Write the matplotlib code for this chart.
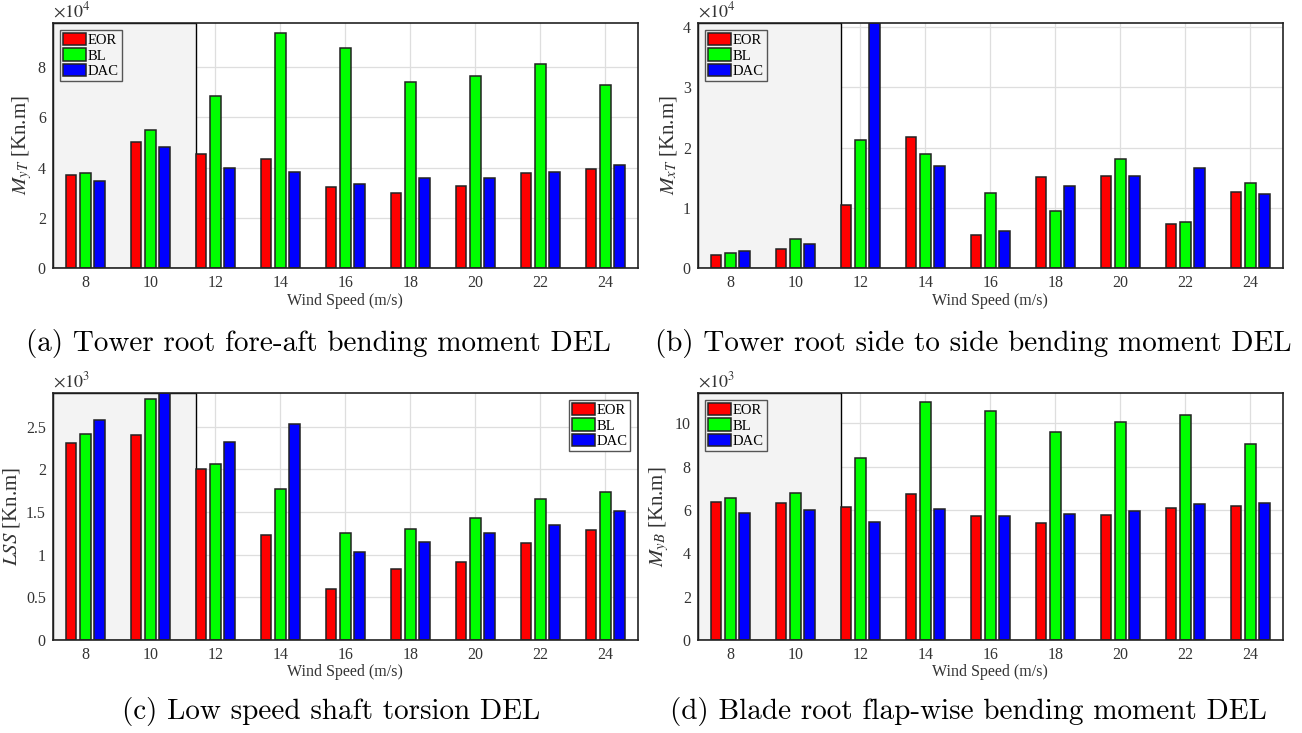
import matplotlib
matplotlib.use("Agg")
import matplotlib.pyplot as plt
from matplotlib.patches import Rectangle
import numpy as np

plt.rcParams['font.family'] = ['Liberation Serif', 'DejaVu Serif']
plt.rcParams['mathtext.fontset'] = 'stix'

wind = [8, 10, 12, 14, 16, 18, 20, 22, 24]
series = ['EOR', 'BL', 'DAC']
colors = ['#ff0000', '#00ff00', '#0000ff']

# (a) Tower root fore-aft bending moment DEL (x1e4)
a_eor = [3.70, 5.00, 4.52, 4.35, 3.22, 3.00, 3.28, 3.78, 3.95]
a_bl  = [3.78, 5.48, 6.82, 9.35, 8.75, 7.38, 7.62, 8.12, 7.27]
a_dac = [3.46, 4.83, 3.97, 3.83, 3.35, 3.60, 3.57, 3.82, 4.12]
# (b) Tower root side to side bending moment DEL (x1e4)
b_eor = [0.22, 0.33, 1.05, 2.17, 0.55, 1.52, 1.53, 0.73, 1.27]
b_bl  = [0.25, 0.49, 2.13, 1.89, 1.25, 0.95, 1.81, 0.77, 1.41]
b_dac = [0.29, 0.40, 4.07, 1.69, 0.62, 1.37, 1.53, 1.66, 1.23]
# (c) Low speed shaft torsion DEL (x1e3)
c_eor = [2.31, 2.40, 2.00, 1.23, 0.60, 0.83, 0.91, 1.14, 1.29]
c_bl  = [2.42, 2.83, 2.06, 1.77, 1.25, 1.30, 1.43, 1.65, 1.73]
c_dac = [2.58, 2.90, 2.32, 2.53, 1.03, 1.15, 1.25, 1.35, 1.51]
# (d) Blade root flap-wise bending moment DEL (x1e3)
d_eor = [6.35, 6.31, 6.15, 6.72, 5.70, 5.40, 5.75, 6.10, 6.20]
d_bl  = [6.54, 6.77, 8.38, 11.00, 10.55, 9.60, 10.05, 10.40, 9.05]
d_dac = [5.85, 6.00, 5.46, 6.03, 5.70, 5.80, 5.95, 6.28, 6.33]

panels = [
    dict(data=[a_eor, a_bl, a_dac], ylabel=r'$M_{yT}$ [Kn.m]', exp=r'$\times10^{4}$',
         ylim=9.74, yticks=[0, 2, 4, 6, 8], yticklabels=['0', '2', '4', '6', '8'],
         loc='upper left', caption='(a) Tower root fore-aft bending moment DEL', capx=318),
    dict(data=[b_eor, b_bl, b_dac], ylabel=r'$M_{xT}$ [Kn.m]', exp=r'$\times10^{4}$',
         ylim=4.07, yticks=[0, 1, 2, 3, 4], yticklabels=['0', '1', '2', '3', '4'],
         loc='upper left', caption='(b) Tower root side to side bending moment DEL', capx=973),
    dict(data=[c_eor, c_bl, c_dac], ylabel=r'$LSS$ [Kn.m]', exp=r'$\times10^{3}$',
         ylim=2.90, yticks=[0, 0.5, 1, 1.5, 2, 2.5], yticklabels=['0', '0.5', '1', '1.5', '2', '2.5'],
         loc='upper right', caption='(c) Low speed shaft torsion DEL', capx=331),
    dict(data=[d_eor, d_bl, d_dac], ylabel=r'$M_{yB}$ [Kn.m]', exp=r'$\times10^{3}$',
         ylim=11.41, yticks=[0, 2, 4, 6, 8, 10], yticklabels=['0', '2', '4', '6', '8', '10'],
         loc='upper left', caption='(d) Blade root flap-wise bending moment DEL', capx=968),
]

W, H = 1302, 733
fig = plt.figure(figsize=(W / 100, H / 100), dpi=100)

lefts = [52.7, 697.7]
rows = [(22.7, 268.5), (392.7, 640.0)]
axw = 585.0

tick_col = '#333333'
for i, p in enumerate(panels):
    r, c = divmod(i, 2)
    top, bot = rows[r]
    ax = fig.add_axes([lefts[c] / W, 1 - bot / H, axw / W, (bot - top) / H])
    ax.set_xlim(7, 25)
    ax.set_ylim(0, p['ylim'])
    ax.add_patch(Rectangle((7, 0), 4.4, p['ylim'], facecolor='#f3f3f3', edgecolor='black',
                           linewidth=1.0, zorder=1))
    x = np.array(wind, dtype=float)
    offs = [-0.44, 0.0, 0.44]
    for k in range(3):
        ax.bar(x + offs[k], p['data'][k], width=0.33, color=colors[k], edgecolor='#222222',
               linewidth=1.1, zorder=3, label=series[k])
    ax.set_xticks(wind)
    ax.set_xticklabels([str(w) for w in wind])
    ax.set_yticks(p['yticks'])
    ax.set_yticklabels(p['yticklabels'])
    ax.grid(True, color='#dedede', linewidth=0.9, zorder=0)
    ax.set_axisbelow(True)
    ax.tick_params(length=0, labelsize=11.5, colors=tick_col, pad=5)
    for s in ax.spines.values():
        s.set_color('#222222')
        s.set_linewidth(1.2)
        s.set_zorder(5)
    ax.set_xlabel('Wind Speed (m/s)', fontsize=11.5, color=tick_col, labelpad=1)
    ax.set_ylabel(p['ylabel'], fontsize=15, color=tick_col, labelpad=3)
    ax.text(0.0, 1.008, p['exp'], transform=ax.transAxes, fontsize=13, color=tick_col,
            ha='left', va='bottom')
    leg = ax.legend(loc=p['loc'], fontsize=10.5, frameon=True, fancybox=False,
                    handlelength=1.6, handleheight=0.9, handletextpad=0.1,
                    labelspacing=0.1, borderpad=0.2, borderaxespad=0.5)
    leg.get_frame().set_edgecolor('#555555')
    leg.get_frame().set_linewidth(1.0)
    if p['loc'] == 'upper right':
        leg.get_frame().set_facecolor('white')
    else:
        leg.get_frame().set_facecolor('#f3f3f3')
    leg.get_frame().set_alpha(None)
    for hnd in leg.legend_handles:
        hnd.set_edgecolor('#222222')
        hnd.set_linewidth(1.1)
    leg.set_zorder(10)
    cy = 1 - (343 if r == 0 else 711) / H
    fig.text(p['capx'] / W, cy, p['caption'], fontsize=21.0, family='cmr10',
             ha='center', va='center')

fig.savefig('out.png', dpi=100)
